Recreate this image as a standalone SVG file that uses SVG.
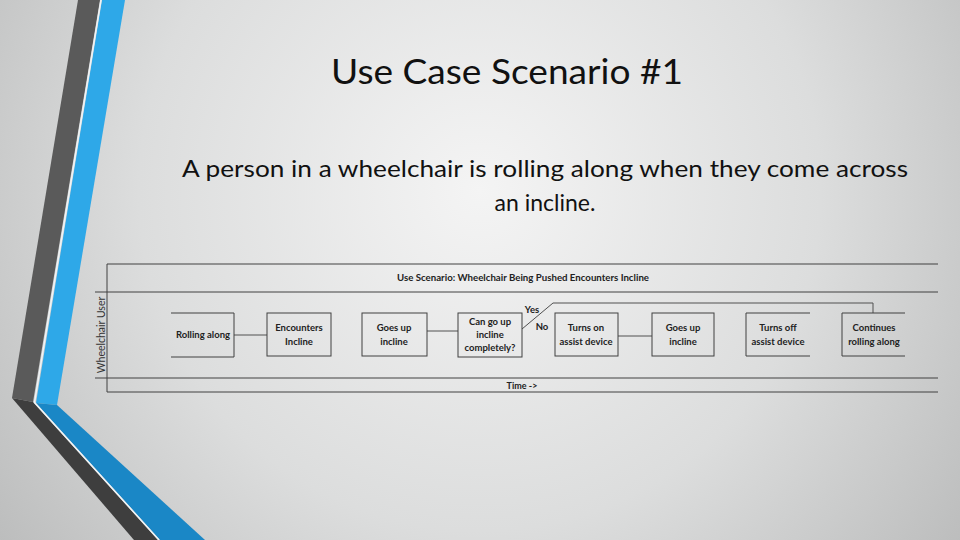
<svg xmlns="http://www.w3.org/2000/svg" width="960" height="540" viewBox="0 0 960 540">
<defs>
<radialGradient id="bg" cx="480" cy="190" r="620" gradientUnits="userSpaceOnUse">
<stop offset="0" stop-color="#f4f4f4"/>
<stop offset="0.55" stop-color="#dcdddd"/>
<stop offset="1" stop-color="#b9baba"/>
</radialGradient>
<style>
.ln{stroke:#404040;stroke-width:1;fill:none}
.cn{stroke:#505050;stroke-width:1;fill:none}
.bx{stroke:#404040;stroke-width:1;fill:none}
.t{font-family:Lato,"Liberation Sans",sans-serif;font-size:9.5px;font-weight:bold;fill:#222;text-anchor:middle}
.h{font-family:Lato,"Liberation Sans",sans-serif;font-size:9px;font-weight:bold;fill:#222;text-anchor:middle}
</style>
</defs>
<rect width="960" height="540" fill="url(#bg)"/>
<!-- decorative bands -->
<polygon points="78,0 100,0 33,402 12,398" fill="#5a5a5a"/>
<polygon points="12,398 33,402 158,540 134,540" fill="#3e3e3e"/>
<polygon points="102,0 125,0 57,405 36,403" fill="#2ea8e8"/>
<polygon points="36,403 57,405 205,540 160,540" fill="#1a87c6"/>
<polyline points="101,0 34.5,402.5 159,540" fill="none" stroke="#f0f4f6" stroke-width="1.5"/>
<!-- titles -->
<text x="507" y="84" font-family="Lato,'Open Sans',sans-serif" font-size="35" fill="#111" text-anchor="middle" textLength="352" lengthAdjust="spacingAndGlyphs">Use Case Scenario #1</text>
<text x="545" y="177" font-family="Lato,'Open Sans',sans-serif" font-size="23" fill="#111" text-anchor="middle" textLength="726" lengthAdjust="spacingAndGlyphs">A person in a wheelchair is rolling along when they come across</text>
<text x="545" y="211" font-family="Lato,'Open Sans',sans-serif" font-size="23" fill="#111" text-anchor="middle">an incline.</text>
<!-- frame -->
<g id="frame">
<line class="ln" x1="107" y1="264" x2="938" y2="264"/>
<line class="ln" x1="107" y1="264" x2="107" y2="392"/>
<line class="ln" x1="95" y1="292" x2="938" y2="292"/>
<line class="ln" x1="95" y1="378" x2="938" y2="378"/>
<line class="ln" x1="107" y1="392" x2="938" y2="392"/>
<text class="h" x="523" y="281" textLength="252" lengthAdjust="spacingAndGlyphs">Use Scenario: Wheelchair Being Pushed Encounters Incline</text>
<text class="h" x="522" y="389">Time -&gt;</text>
<text transform="translate(105,335) rotate(-90)" font-family="Lato,'Liberation Sans',sans-serif" font-size="10.5" fill="#333" text-anchor="middle">Wheelchair User</text>
</g>
<!-- connectors -->
<g id="connectors">
<line class="cn" x1="234" y1="335" x2="267" y2="335"/>
<line class="cn" x1="427" y1="331" x2="458" y2="331"/>
<line class="cn" x1="618" y1="336" x2="652" y2="336"/>
<polyline class="cn" points="522,329 553,303 873,303 873,313"/>
<text class="t" x="532" y="313">Yes</text>
<text class="t" x="542" y="330">No</text>
</g>
<!-- nodes -->
<g id="n1"><polyline class="bx" points="171,313 234,313 234,357 171,357"/><text class="t" x="203" y="338">Rolling along</text></g>
<g id="n2"><rect class="bx" x="267" y="313" width="64" height="43"/><text class="t" x="299" y="331">Encounters</text><text class="t" x="299" y="345">Incline</text></g>
<g id="n3"><rect class="bx" x="362" y="313" width="65" height="43"/><text class="t" x="394" y="331">Goes up</text><text class="t" x="394" y="345">incline</text></g>
<g id="n4"><rect class="bx" x="458" y="313" width="64" height="44"/><text class="t" x="490" y="325">Can go up</text><text class="t" x="490" y="338">incline</text><text class="t" x="490" y="351">completely?</text></g>
<g id="n5"><rect class="bx" x="555" y="313" width="63" height="43"/><text class="t" x="586" y="331">Turns on</text><text class="t" x="586" y="345">assist device</text></g>
<g id="n6"><rect class="bx" x="652" y="313" width="62" height="43"/><text class="t" x="683" y="331">Goes up</text><text class="t" x="683" y="345">incline</text></g>
<g id="n7"><polyline class="bx" points="810,313 746,313 746,356 810,356"/><text class="t" x="778" y="331">Turns off</text><text class="t" x="778" y="345">assist device</text></g>
<g id="n8"><polyline class="bx" points="905,313 842,313 842,356 905,356"/><text class="t" x="874" y="331">Continues</text><text class="t" x="874" y="345">rolling along</text></g>
</svg>
